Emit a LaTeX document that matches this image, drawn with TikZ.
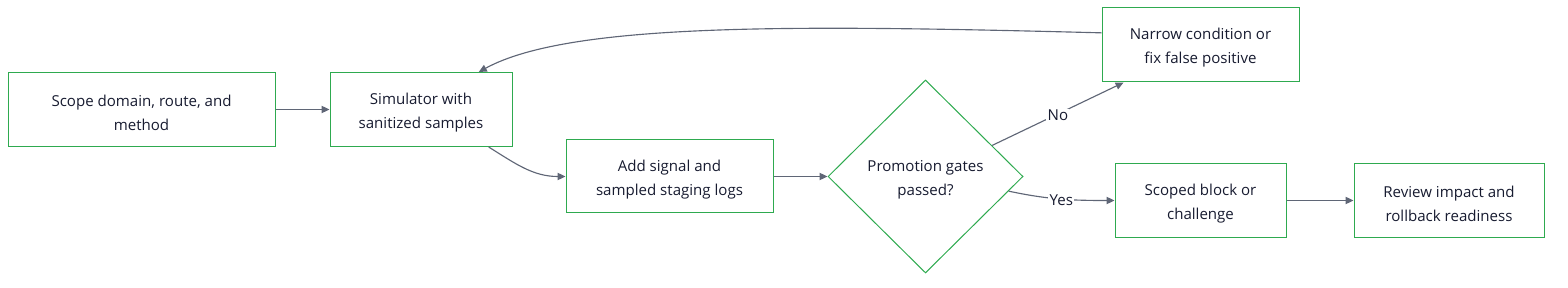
\documentclass[tikz,border=0pt]{standalone}
\usepackage{fontspec}
\setmainfont{Open Sans}
\usetikzlibrary{arrows.meta,positioning,shapes.geometric}
\definecolor{boxgreen}{HTML}{2EAA4F}
\definecolor{linegray}{HTML}{5F6676}
\definecolor{inkblue}{HTML}{171B30}

\begin{document}
\begin{tikzpicture}[
    x=0.75pt, y=0.75pt,
    node distance=40.5pt,
    box/.style={rectangle, draw=boxgreen, line width=0.75pt, minimum height=55.5pt,
                inner sep=0pt, align=center, text=inkblue, font=\fontsize{11.3}{18}\selectfont,
                text height=31pt},
    gate/.style={diamond, draw=boxgreen, line width=0.75pt, minimum width=146.25pt,
                 minimum height=144.75pt, inner sep=0pt, align=center, text=inkblue,
                 font=\fontsize{11.3}{18}\selectfont, text height=31pt},
    arrow/.style={-{Triangle[length=6pt,width=5.5pt]}, line width=0.85pt, draw=linegray},
    edgelabel/.style={fill=white, text=inkblue, inner sep=1pt, yshift=-1pt,
                      font=\fontsize{11.3}{14}\selectfont}
]
\useasboundingbox (0,0) rectangle (1568,-288);

\node[box, minimum width=200.25pt] (scope) at (141.5,-109.5) {Scope domain, route, and\\method};
\node[box, minimum width=136.5pt, right=of scope] (sim) {Simulator with\\sanitized samples};
\node[box, minimum width=155.25pt, minimum height=54.75pt] (signal) at (669.5,-176.5) {Add signal and\\sampled staging logs};
\node[gate, right=of signal] (gates) {Promotion gates\\passed?};
\node[box, minimum width=147.75pt] (narrow) at (1200.5,-45) {Narrow condition or\\fix false positive};
\node[box, minimum width=128.25pt] (block) at (1200.5,-200.5) {Scoped block or\\challenge};
\node[box, minimum width=142.5pt, right=50.25pt of block] (review) {Review impact and\\rollback readiness};

\draw[arrow] (scope) -- (sim);
\draw[arrow] (sim.-29) to[out=-32, in=180] (signal.west);
\draw[arrow] (signal) -- (gates);
\draw[arrow] (gates.25) -- node[edgelabel] {No} (narrow.-154);
\draw[arrow] (gates.-10) to[out=-12, in=180] node[edgelabel, pos=0.5] {Yes} (block.west);
\draw[arrow] (block) -- (review);

% back to the simulator
\draw[arrow] (narrow.173) .. controls (800,-25) and (570,-22) .. (sim.33);

\end{tikzpicture}
\end{document}
